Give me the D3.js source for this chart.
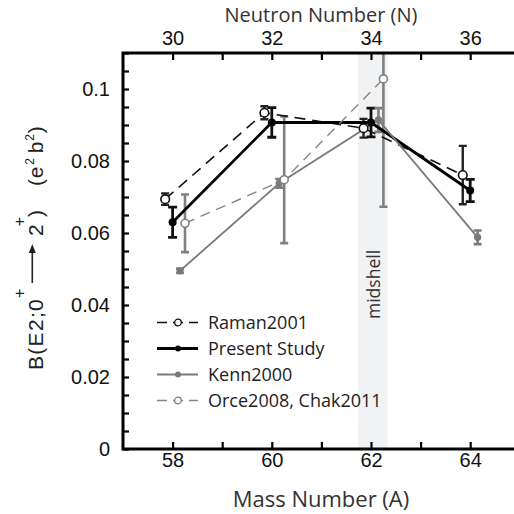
<!DOCTYPE html>
<html>
<head>
<meta charset="utf-8">
<script src="https://cdn.jsdelivr.net/npm/d3@7"></script>
<style>
  body { margin: 0; background: #fff; }
  svg { display: block; }
</style>
</head>
<body>
<svg id="chart" width="514" height="514"></svg>
<script>
// data ---------------------------------------------------------------------
const massNumbers = [58, 60, 62, 64];
const neutronTicks = [30, 32, 34, 36];
const yTickValues = [0, 0.02, 0.04, 0.06, 0.08, 0.1];

const ramanB2 = [0.0694, 0.0934, 0.0891, 0.0761];
const ramanErr = [0.0016, 0.0018, 0.0026, 0.0081];

const presentB2 = [0.0630, 0.0907, 0.0907, 0.0718];
const presentErr = [0.0042, 0.0041, 0.0040, 0.0031];

const kennB2 = [0.0495, 0.0738, 0.0914, 0.0588];
const kennErr = [0.0006, 0.0012, 0.0033, 0.0019];

const orceB2 = [0.0627, 0.0748, 0.1028];
const orceErr = [0.0080, 0.0176, 0.0355];

const midshellRange = [61.74, 62.33];

// layout ---------------------------------------------------------------------
let width = 514;
let height = 514;
let margin = {top: 53, right: 0, bottom: 65, left: 123};

let svg = d3.select("#chart");

let xScale = d3.scaleLinear().domain([57, 65]).range([margin.left, margin.left + 8 * 49.6]);
let nScale = d3.scaleLinear().domain([29, 37]).range(xScale.range());
let yScale = d3.scaleLinear().domain([0, 0.11]).range([height - margin.bottom, margin.top]);

const tickFont = "'Liberation Sans', Arial, sans-serif";
const titleFont = "'Open Sans', 'Noto Sans', sans-serif";

// series + how each one is drawn
const series = [
    {name: "Raman2001", values: ramanB2, errors: ramanErr, shift: -0.15,
     line: "#111", lineWidth: 1.6, dash: "11,7", bar: "#222", barWidth: 2.4, cap: 8,
     open: true, r: 4.3, markStroke: "#111"},
    {name: "Present Study", values: presentB2, errors: presentErr, shift: 0,
     line: "#000", lineWidth: 2.8, dash: null, bar: "#111", barWidth: 2.8, cap: 9,
     open: false, r: 4, markStroke: "#000"},
    {name: "Kenn2000", values: kennB2, errors: kennErr, shift: 0.15,
     line: "#7a7a7a", lineWidth: 1.8, dash: null, bar: "#7d7d7d", barWidth: 2.6, cap: 8,
     open: false, r: 3.6, markStroke: "#7a7a7a"},
    {name: "Orce2008, Chak2011", values: orceB2, errors: orceErr, shift: 0.25,
     line: "#858585", lineWidth: 1.4, dash: "10,7", bar: "#808080", barWidth: 2.6, cap: 8,
     open: true, r: 4, markStroke: "#808080"}
];

function pointsOf(s)
{
    return s.values.map((v, i) => ({a: massNumbers[i] + s.shift, v: v, e: s.errors[i]}));
}

// background band -------------------------------------------------------------
function drawMidshell()
{
    svg.append("rect")
    .attr("x", xScale(midshellRange[0]))
    .attr("y", margin.top)
    .attr("width", xScale(midshellRange[1]) - xScale(midshellRange[0]))
    .attr("height", yScale(0) - margin.top)
    .attr("fill", "#f1f2f4");
}

function drawMidshellLabel()
{
    svg.append("text")
    .attr("transform", `translate(${xScale(62) + 9}, 319) rotate(-90)`)
    .attr("font-family", titleFont)
    .attr("font-size", 17.5)
    .attr("fill", "#333")
    .text("midshell");
}

// axes --------------------------------------------------------------------------
function drawAxes()
{
    const fmt = d => d === 0 ? "0" : String(+d.toFixed(2));
    const minorY = d3.range(0, 0.1101, 0.005);

    const xAxis = svg.append("g")
    .attr("transform", `translate(0, ${yScale(0)})`)
    .call(d3.axisBottom(xScale).tickValues(d3.range(58, 65)).tickSizeInner(-7).tickSizeOuter(0).tickPadding(4)
        .tickFormat(d => massNumbers.includes(d) ? d : ""));

    const nAxis = svg.append("g")
    .attr("transform", `translate(0, ${margin.top})`)
    .call(d3.axisTop(nScale).tickValues(d3.range(30, 37)).tickSizeInner(-7).tickSizeOuter(0).tickPadding(8)
        .tickFormat(d => neutronTicks.includes(d) ? d : ""));

    const yAxis = svg.append("g")
    .attr("transform", `translate(${margin.left}, 0)`)
    .call(d3.axisLeft(yScale).tickValues(minorY).tickSizeInner(-6).tickSizeOuter(0).tickPadding(13)
        .tickFormat(d => yTickValues.some(t => Math.abs(t - d) < 1e-9) ? fmt(d) : ""));

    [xAxis, nAxis, yAxis].forEach(g => {
        g.select(".domain").remove();
        g.selectAll(".tick line").attr("stroke", "#000").attr("stroke-width", 2.2);
        g.selectAll(".tick text").attr("font-family", tickFont).attr("font-size", 20).attr("fill", "#111");
    });

    // frame lines (open on the right)
    svg.append("path")
    .attr("d", `M${width},${margin.top}H${margin.left}V${yScale(0)}H${width}`)
    .attr("fill", "none")
    .attr("stroke", "#000")
    .attr("stroke-width", 3);

    svg.append("text")
    .attr("x", 321).attr("y", 21.5)
    .attr("text-anchor", "middle")
    .attr("font-family", titleFont).attr("font-size", 20).attr("fill", "#333")
    .text("Neutron Number (N)");

    svg.append("text")
    .attr("x", 321).attr("y", 507)
    .attr("text-anchor", "middle")
    .attr("font-family", titleFont).attr("font-size", 22).attr("fill", "#333")
    .text("Mass Number (A)");

    // y title, built along a rotated baseline
    const yl = svg.append("g")
    .attr("transform", "translate(43, 370) rotate(-90)")
    .attr("font-family", tickFont)
    .attr("font-size", 21)
    .attr("fill", "#222");

    const t1 = yl.append("text").attr("x", 0).attr("y", 0).attr("letter-spacing", 1.3);
    t1.append("tspan").text("B(E2;0");
    t1.append("tspan").attr("font-size", 16).attr("dy", -18).attr("dx", 0).text("+");

    yl.append("path")
    .attr("d", "M87,-10.7H119")
    .attr("stroke", "#222").attr("stroke-width", 1.6);
    yl.append("path")
    .attr("d", "M126,-10.7L117,-14.2L117,-7.2Z")
    .attr("fill", "#222");

    const t2 = yl.append("text").attr("x", 134).attr("y", 0).attr("letter-spacing", 1);
    t2.append("tspan").text("2");
    t2.append("tspan").attr("font-size", 16).attr("dy", -18).attr("dx", -3).text("+");
    t2.append("tspan").attr("dy", 18).attr("dx", -1).text(")");

    const t3 = yl.append("text").attr("x", 184).attr("y", 0).attr("letter-spacing", 0.8);
    t3.append("tspan").text("(e");
    t3.append("tspan").attr("font-size", 12).attr("dy", -9).attr("dx", 1).text("2");
    t3.append("tspan").attr("dy", 9).attr("dx", 4).text("b");
    t3.append("tspan").attr("font-size", 12).attr("dy", -9).text("2");
    t3.append("tspan").attr("dy", 9).text(")");
}

// data ------------------------------------------------------------------------
function drawSeries()
{
    svg.append("clipPath").attr("id", "plotclip")
    .append("rect")
    .attr("x", margin.left).attr("y", margin.top)
    .attr("width", width - margin.left).attr("height", yScale(0) - margin.top);

    const plot = svg.append("g").attr("clip-path", "url(#plotclip)");

    const lineGen = d3.line().x(d => xScale(d.a)).y(d => yScale(d.v));

    // error bars
    series.forEach(s => {
        const g = plot.append("g");
        const pts = pointsOf(s);
        g.selectAll("path.err")
        .data(pts)
        .join("path")
        .attr("class", "err")
        .attr("d", d => {
            const x = xScale(d.a), hi = yScale(d.v + d.e), lo = yScale(d.v - d.e), c = s.cap / 2;
            return `M${x},${hi}V${lo}M${x - c},${hi}H${x + c}M${x - c},${lo}H${x + c}`;
        })
        .attr("fill", "none")
        .attr("stroke", s.bar)
        .attr("stroke-width", s.barWidth);
    });

    // connecting lines
    series.forEach(s => {
        plot.append("path")
        .datum(pointsOf(s))
        .attr("d", lineGen)
        .attr("fill", "none")
        .attr("stroke", s.line)
        .attr("stroke-width", s.lineWidth)
        .attr("stroke-dasharray", s.dash);
    });

    // markers
    series.forEach(s => {
        plot.append("g").selectAll("circle")
        .data(pointsOf(s))
        .join("circle")
        .attr("cx", d => xScale(d.a))
        .attr("cy", d => yScale(d.v))
        .attr("r", s.r)
        .attr("fill", s.open ? "#fff" : s.markStroke)
        .attr("stroke", s.markStroke)
        .attr("stroke-width", s.open ? 1.6 : 0);
    });
}

// legend -----------------------------------------------------------------------
function drawLegend()
{
    const lg = svg.append("g").attr("transform", "translate(157, 322.5)");

    const rows = lg.selectAll("g")
    .data(series)
    .join("g")
    .attr("transform", (d, i) => `translate(0, ${i * 26})`);

    rows.append("line")
    .attr("x1", 0).attr("x2", 41)
    .attr("stroke", d => d.line)
    .attr("stroke-width", d => d.lineWidth)
    .attr("stroke-dasharray", d => d.dash ? "10,6" : null);

    rows.append("circle")
    .attr("cx", 21)
    .attr("r", d => d.open ? 3.3 : 3)
    .attr("fill", d => d.open ? "#fff" : d.markStroke)
    .attr("stroke", d => d.markStroke)
    .attr("stroke-width", d => d.open ? 1.3 : 0);

    rows.append("text")
    .attr("x", 51).attr("y", 6.5)
    .attr("font-family", titleFont)
    .attr("font-size", 18)
    .attr("fill", "#222")
    .text(d => d.name);
}

drawMidshell();
drawMidshellLabel();
drawSeries();
drawAxes();
drawLegend();
</script>
</body>
</html>
